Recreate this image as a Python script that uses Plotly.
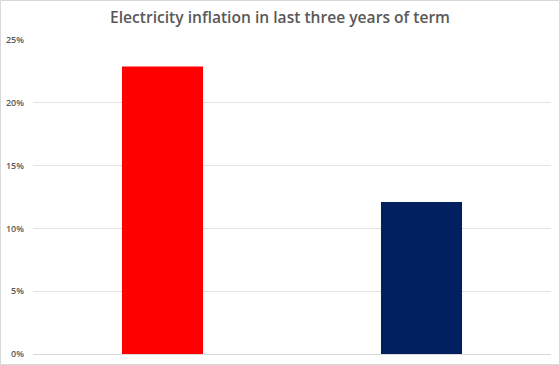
import plotly.graph_objects as go

categories = ["A", "B"]
values = [22.9, 12.1]
colors = ["#ff0000", "#002060"]
tick_vals = [0, 5, 10, 15, 20, 25]
tick_text = ["0%", "5%", "10%", "15%", "20%", "25%"]

W, H = 560, 365
ml, mr, mt, mb = 33, 9, 40, 11
pw, ph = W - ml - mr, H - mt - mb

fig = go.Figure(go.Bar(x=categories, y=values, marker=dict(color=colors, line=dict(width=0)),
                       hoverinfo="skip"))
fig.update_layout(
    width=W, height=H,
    margin=dict(l=ml, r=mr, t=mt, b=mb, pad=0, autoexpand=False),
    paper_bgcolor="white", plot_bgcolor="white",
    bargap=0.687,
    showlegend=False,
    title=dict(text="Electricity inflation in last three years of term", x=0.5, xanchor="center",
               y=1 - 18 / H, yanchor="middle",
               font=dict(family="Open Sans", size=15.6, color="#595959", weight=600)),
    xaxis=dict(showticklabels=False, showgrid=False, zeroline=False, showline=True,
               linecolor="#d9d9d9", linewidth=1, ticks="", automargin=False),
    yaxis=dict(range=[0, 25], tickvals=tick_vals, ticktext=tick_text, showgrid=True,
               gridcolor="#e3e3e3", gridwidth=1, zeroline=False, showline=False,
               tickfont=dict(family="Open Sans", size=9, color="#595959", weight=600), ticks="",
               ticklabelstandoff=8, automargin=False),
    shapes=[dict(type="rect", xref="paper", yref="paper",
                 x0=(-ml + 0.5) / pw, x1=1 + (mr - 0.5) / pw,
                 y0=(-mb + 0.5) / ph, y1=1 + (mt - 0.5) / ph,
                 line=dict(color="#d9d9d9", width=1), layer="below")],
)
fig.write_html("out.html", config={"displayModeBar": False},
               post_script="document.body.style.margin='0';document.body.style.overflow='hidden';")
